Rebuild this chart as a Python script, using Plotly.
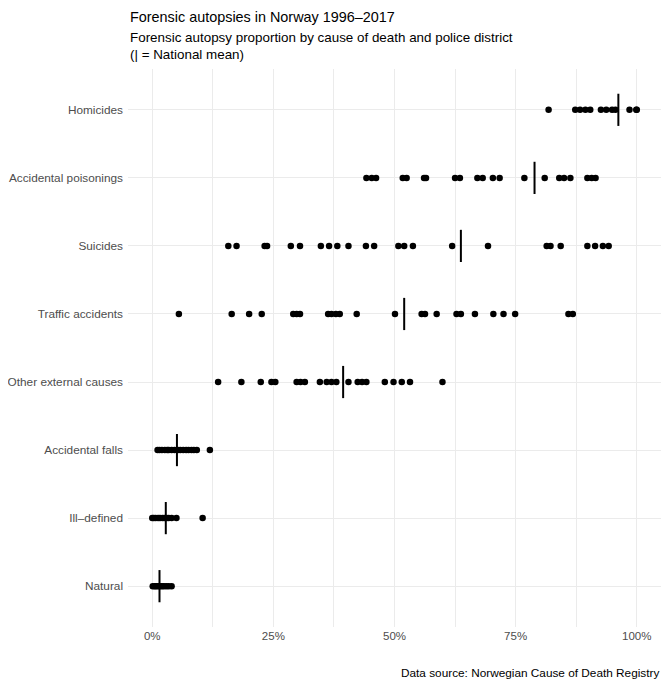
import plotly.graph_objects as go

# ---- Data (percent of deaths that received forensic autopsy, per police district) ----
causes = ["Homicides", "Accidental poisonings", "Suicides", "Traffic accidents",
          "Other external causes", "Accidental falls", "Ill\u2013defined", "Natural"]

homicides = [81.8, 87.3, 88.3, 89.4, 90.4, 92.6, 93.7, 94.9, 95.6, 98.5, 99.9, 100.0]
poisonings = [44.2, 45.3, 46.2, 51.7, 52.5, 56.1, 56.5, 62.5, 63.5, 67.1, 68.2, 70.3,
              71.7, 76.8, 81.0, 84.0, 85.0, 86.3, 89.8, 90.7, 91.5]
suicides = [15.7, 17.4, 23.2, 23.7, 28.6, 30.5, 34.8, 36.5, 38.2, 40.5, 44.1, 45.8,
            50.8, 52.0, 53.8, 61.9, 69.3, 81.4, 82.2, 84.3, 89.8, 91.4, 93.0, 94.2]
traffic = [5.5, 16.4, 20.0, 22.6, 29.1, 29.8, 30.5, 36.3, 37.0, 37.9, 38.7, 42.2,
           50.1, 55.6, 56.3, 58.7, 62.8, 63.7, 66.6, 70.4, 72.5, 74.9, 85.9, 86.8]
other_external = [13.6, 18.4, 22.4, 24.6, 25.4, 29.8, 30.6, 31.5, 34.6, 36.0, 37.0,
                  38.0, 40.5, 42.4, 43.3, 44.2, 48.0, 49.8, 51.5, 53.2, 59.9]
falls = [1.1, 1.5, 2.0, 2.6, 3.1, 3.4, 4.0, 4.6, 5.3, 5.8, 6.4, 7.0, 7.5, 8.1, 8.6,
         9.2, 11.9]
ill_defined = [0.0, 0.3, 0.7, 1.2, 1.6, 2.1, 2.5, 3.0, 3.4, 4.0, 5.0, 10.4]
natural = [0.1, 0.5, 0.8, 1.2, 1.6, 2.0, 2.4, 2.9, 3.4, 4.0]

national_mean = [96.2, 78.9, 63.7, 52.0, 39.4, 5.1, 2.8, 1.5]

x_ticks = [0, 25, 50, 75, 100]
x_tick_labels = ["0%", "25%", "50%", "75%", "100%"]

series = [homicides, poisonings, suicides, traffic, other_external, falls,
          ill_defined, natural]

# ---- Figure ----
fig = go.Figure()

xs, ys = [], []
for cause, vals in zip(causes, series):
    xs.extend(vals)
    ys.extend([cause] * len(vals))

fig.add_trace(go.Scatter(
    x=xs, y=ys, mode="markers",
    marker=dict(color="black", size=6.5),
    showlegend=False, hoverinfo="x+y"))

fig.add_trace(go.Scatter(
    x=national_mean, y=causes, mode="markers",
    marker=dict(symbol="line-ns", size=23, color="black",
                line=dict(width=2, color="black")),
    showlegend=False, hoverinfo="x+y"))

font_family = "Liberation Sans, Arial, sans-serif"
grid_col = "#EBEBEB"

fig.update_layout(
    width=663, height=684,
    margin=dict(l=120, r=10, t=61, b=65),
    paper_bgcolor="white", plot_bgcolor="white",
    font=dict(family=font_family, color="#4D4D4D", size=12),
    xaxis=dict(
        range=[-5, 105], tickvals=x_ticks, ticktext=x_tick_labels,
        showgrid=True, gridcolor=grid_col, gridwidth=1,
        minor=dict(dtick=12.5, tick0=0, showgrid=True, gridcolor=grid_col, gridwidth=0.6),
        zeroline=False, showline=False, ticks="",
        tickfont=dict(size=11.5, color="#4D4D4D"),
        automargin=False,
    ),
    yaxis=dict(
        type="category", categoryorder="array", categoryarray=causes[::-1],
        range=[-0.6, 7.6],
        showgrid=True, gridcolor=grid_col, gridwidth=1,
        zeroline=False, showline=False, ticks="",
        tickfont=dict(size=11.8, color="#4D4D4D"),
        ticklabelstandoff=4,
        automargin=False,
    ),
    annotations=[
        dict(text="Forensic autopsies in Norway 1996\u20132017", xref="paper", yref="paper",
             x=0, y=1.093, xanchor="left", yanchor="middle", showarrow=False,
             font=dict(size=14.4, color="black", family=font_family)),
        dict(text="Forensic autopsy proportion by cause of death and police district",
             xref="paper", yref="paper", x=0, y=1.0556, xanchor="left", yanchor="middle",
             showarrow=False, font=dict(size=13.4, color="black", family=font_family)),
        dict(text="(| = National mean)",
             xref="paper", yref="paper", x=0, y=1.026, xanchor="left", yanchor="middle",
             showarrow=False, font=dict(size=13.4, color="black", family=font_family)),
        dict(text="Data source: Norwegian Cause of Death Registry",
             xref="paper", yref="paper", x=1, y=-0.0824, xanchor="right", yanchor="middle",
             showarrow=False, font=dict(size=11.8, color="black", family=font_family)),
    ],
)

fig.write_html("out.html")
